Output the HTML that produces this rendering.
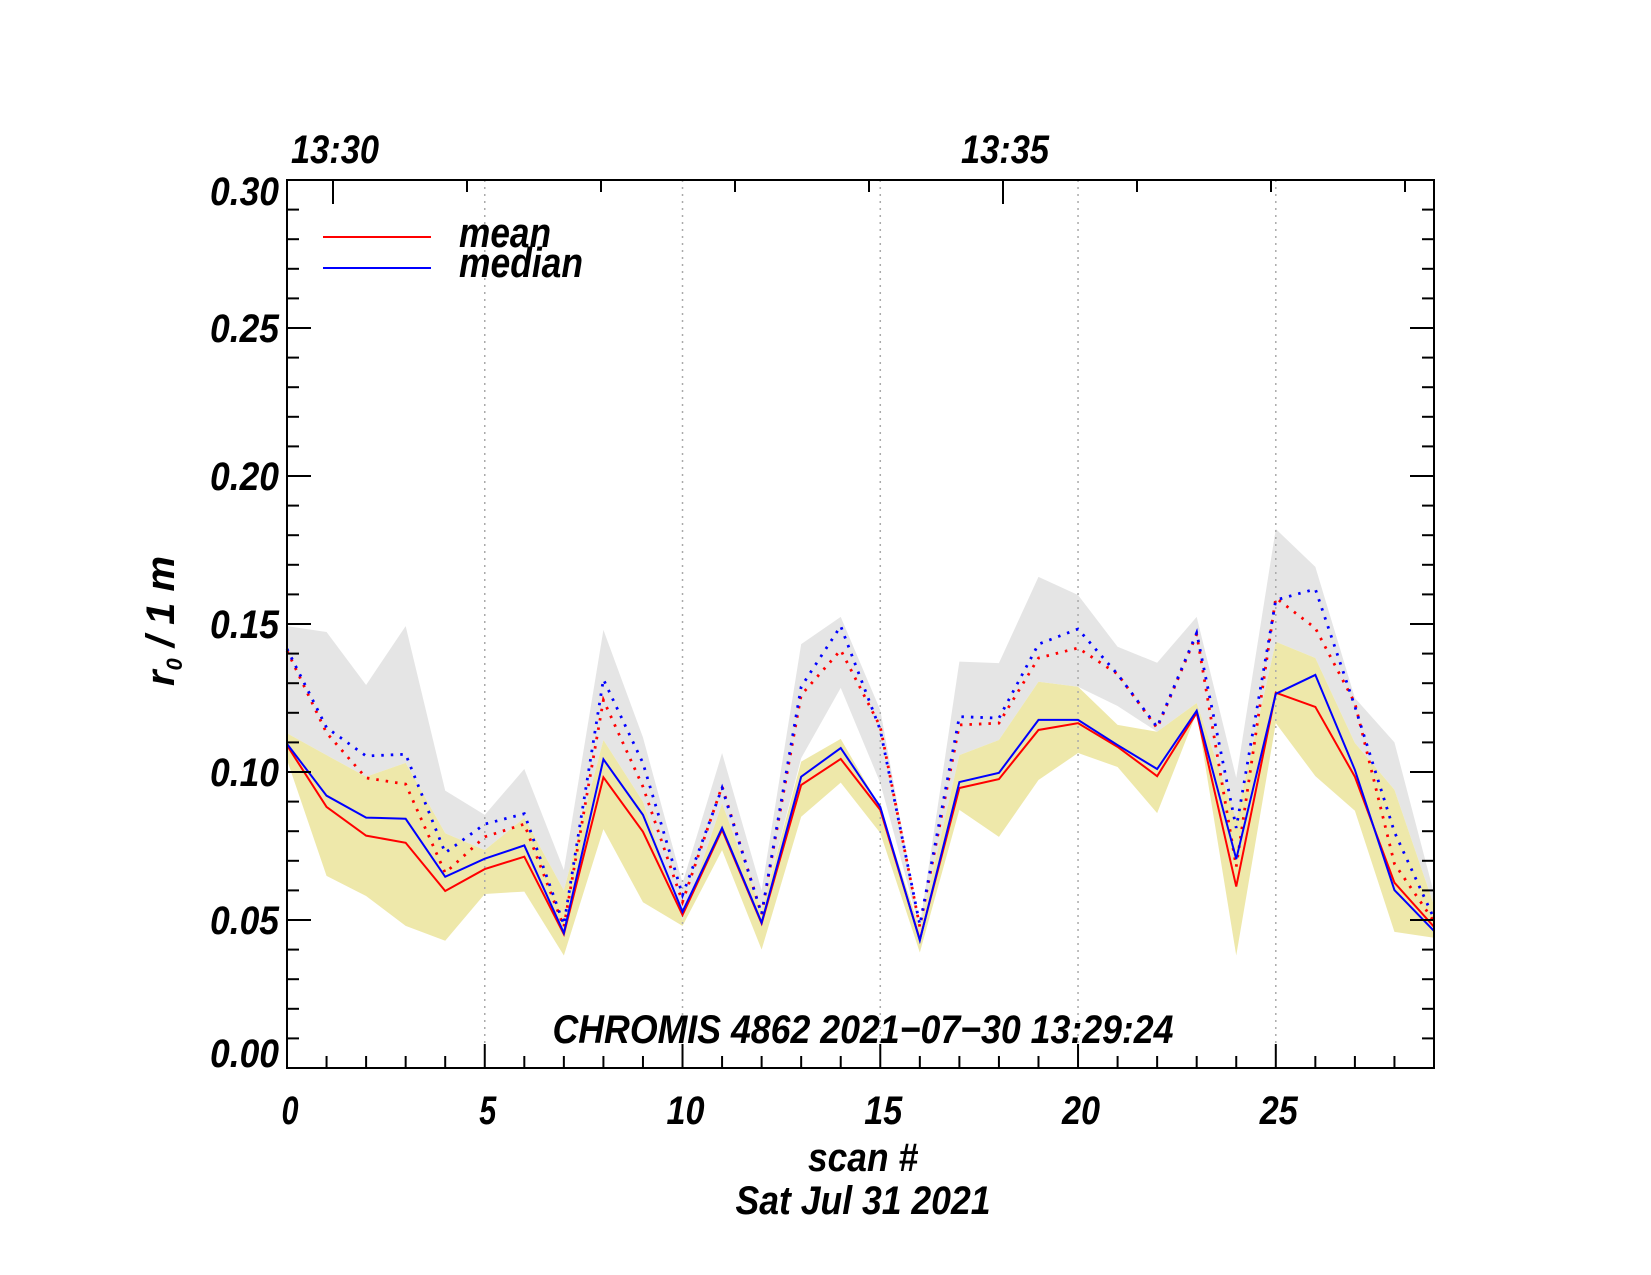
<!DOCTYPE html>
<html><head><meta charset="utf-8"><style>
html,body{margin:0;padding:0;background:#fff;}
svg{display:block;}
text{font-family:"Liberation Sans",sans-serif;font-weight:bold;font-style:italic;fill:#000;}
</style></head><body>
<svg id="chart" width="1651" height="1275" viewBox="0 0 1651 1275" xmlns="http://www.w3.org/2000/svg">
<g id="bands"></g>
<g id="grid"></g>
<g id="lines"></g>
<g id="axes"></g>
<text x="335" y="163" font-size="40" text-anchor="middle" textLength="88" lengthAdjust="spacingAndGlyphs">13:30</text>
<text x="1005" y="163" font-size="40" text-anchor="middle" textLength="88" lengthAdjust="spacingAndGlyphs">13:35</text>
<line x1="323" y1="237" x2="431" y2="237" stroke="#ff0000" stroke-width="2"/>
<line x1="323" y1="268" x2="431" y2="268" stroke="#0000ff" stroke-width="2"/>
<text x="459" y="247" font-size="42" textLength="92" lengthAdjust="spacingAndGlyphs">mean</text>
<text x="459" y="277" font-size="42" textLength="124" lengthAdjust="spacingAndGlyphs">median</text>
<text x="863" y="1043" font-size="40" text-anchor="middle" textLength="621" lengthAdjust="spacingAndGlyphs">CHROMIS 4862 2021−07−30 13:29:24</text>
<text x="863" y="1171" font-size="40" text-anchor="middle" textLength="110" lengthAdjust="spacingAndGlyphs">scan #</text>
<text x="863" y="1214" font-size="40" text-anchor="middle" textLength="255" lengthAdjust="spacingAndGlyphs">Sat Jul 31 2021</text>
<text transform="translate(174,621) rotate(-90)" font-size="40" text-anchor="middle">r<tspan font-size="22" dy="8">0</tspan><tspan dy="-8"> / 1 m</tspan></text>
</svg>
<script>
const scans = [0,1,2,3,4,5,6,7,8,9,10,11,12,13,14,15,16,17,18,19,20,21,22,23,24,25,26,27,28,29];
const meanVals = [.109,.0882,.0785,.0761,.0598,.0672,.0714,.0452,.0982,.0798,.0517,.0805,.0488,.0956,.1044,.0872,.0434,.0946,.0976,.1142,.1165,.1085,.0986,.1200,.0613,.1268,.1220,.0984,.0626,.0477];
const medianVals = [.1095,.0920,.0846,.0842,.0646,.0707,.0752,.0456,.1043,.0855,.0528,.0811,.0491,.0984,.1081,.0882,.0431,.0966,.0997,.1176,.1176,.1091,.1010,.1207,.0706,.1264,.1328,.1007,.0601,.0463];
const meanDotVals = [.141,.1132,.0980,.0959,.0659,.0781,.0824,.0477,.1243,.095,.0561,.0952,.052,.126,.1412,.1153,.0477,.1159,.1165,.1385,.1419,.1331,.1148,.1465,.068,.1588,.1486,.1233,.069,.0495];
const medianDotVals = [.1416,.1150,.1054,.1060,.0727,.0824,.0859,.0484,.1313,.103,.0584,.0946,.052,.1288,.1493,.1142,.0484,.1187,.1182,.1432,.1483,.133,.1152,.1470,.0811,.1581,.1618,.1221,.0797,.0505];
const grayUpper = [.1493,.1473,.1294,.1493,.0937,.0855,.1010,.0669,.1480,.1117,.0625,.1064,.060,.1432,.1524,.1209,.048,.1373,.1368,.1659,.1598,.1423,.1369,.1524,.098,.1821,.1693,.125,.110,.059];
const grayLower = [.1131,.1057,.0984,.1031,.0793,.0736,.0845,.060,.1108,.090,.050,.0895,.053,.1047,.1284,.0963,.047,.1057,.1108,.1305,.1288,.1223,.1136,.1233,.084,.1440,.1385,.1098,.094,.055];
const yellowUpper = [.1131,.1057,.0984,.1031,.0793,.0736,.0845,.060,.1108,.090,.050,.0895,.053,.1035,.1112,.088,.047,.1057,.1108,.1305,.1288,.1159,.1136,.1233,.084,.1440,.1385,.1098,.094,.055];
const yellowLower = [.1041,.0649,.0581,.048,.043,.0588,.0596,.038,.0807,.056,.048,.0736,.040,.0849,.0964,.0794,.039,.0872,.0781,.0973,.1064,.1017,.0861,.120,.038,.1165,.0986,.0869,.046,.044];
const yTickLabels = ["0.00","0.05","0.10","0.15","0.20","0.25","0.30"];
const xTickLabels = ["0","5","10","15","20","25"];

const NS="http://www.w3.org/2000/svg";
const X0=287,X1=1434,Y0=1068,Y1=180,XMAX=29,YMAX=0.30;
const xs=v=>X0+(X1-X0)*v/XMAX;
const ys=v=>Y0-(Y0-Y1)*v/YMAX;
function mk(tag,parent){const e=document.createElementNS(NS,tag);parent.appendChild(e);return e;}
const bands=document.getElementById('bands'),grid=document.getElementById('grid'),lines=document.getElementById('lines'),axes=document.getElementById('axes'),svg=document.getElementById('chart');

function band(up,low,color,name){
  const pts=scans.map((s,i)=>xs(s)+','+ys(up[i])).concat(scans.slice().reverse().map((s,j)=>{const i=scans.length-1-j;return xs(s)+','+ys(low[i]);}));
  const p=mk('polygon',bands);
  p.setAttribute('points',pts.join(' '));p.setAttribute('fill',color);
  
  
}
band(grayUpper,grayLower,'#e5e5e5','gray-range-band');
band(yellowUpper,yellowLower,'#eee8aa','yellow-range-band');

// vertical gridlines
[5,10,15,20,25].forEach(s=>{
  const l=mk('line',grid);
  l.setAttribute('x1',xs(s));l.setAttribute('x2',xs(s));l.setAttribute('y1',Y1);l.setAttribute('y2',Y0);
  l.setAttribute('stroke','#aaaaaa');l.setAttribute('stroke-width','1.5');l.setAttribute('stroke-dasharray','2 5');
  
  
});

function series(vals,color,dotted,name){
  const p=mk('polyline',lines);
  p.setAttribute('points',scans.map((s,i)=>xs(s)+','+ys(vals[i])).join(' '));
  p.setAttribute('fill','none');p.setAttribute('stroke',color);
  p.setAttribute('stroke-width',dotted?'2.8':'2');
  if(dotted){p.setAttribute('stroke-dasharray','2.5 7');}
  
  
}
series(meanDotVals,'#ff0000',true,'mean-dotted-line');
series(medianDotVals,'#0000ff',true,'median-dotted-line');
series(meanVals,'#ff0000',false,'mean-line');
series(medianVals,'#0000ff',false,'median-line');

// frame
const fr=mk('rect',axes);
fr.setAttribute('x',X0);fr.setAttribute('y',Y1);fr.setAttribute('width',X1-X0);fr.setAttribute('height',Y0-Y1);
fr.setAttribute('fill','none');fr.setAttribute('stroke','#000');fr.setAttribute('stroke-width','2');


function tick(x1,y1,x2,y2){const l=mk('line',axes);l.setAttribute('x1',x1);l.setAttribute('y1',y1);l.setAttribute('x2',x2);l.setAttribute('y2',y2);l.setAttribute('stroke','#000');l.setAttribute('stroke-width','2');
  
  }
// y ticks
for(let k=0;k<=30;k++){const v=k/100,y=ys(v),L=(k%5===0)?24:12;tick(X0,y,X0+L,y);tick(X1,y,X1-L,y);}
// x ticks bottom
for(let s=0;s<=29;s++){const L=(s%5===0)?24:12;tick(xs(s),Y0,xs(s),Y0-L);}
// top time ticks
for(let m=0;m<9;m++){const x=333+134*m;if(x<X1){tick(x,Y1,x,Y1+(m%5===0?24:12));}}
// y labels
yTickLabels.forEach((t,i)=>{
  const v=parseFloat(t);let cy=ys(v);
  if(i===yTickLabels.length-1)cy+=11; if(i===0)cy-=15;
  const e=mk('text',svg);e.textContent=t;
  e.setAttribute('x',279);e.setAttribute('y',cy+14);e.setAttribute('text-anchor','end');e.setAttribute('font-size','40');
  e.setAttribute('textLength','69');e.setAttribute('lengthAdjust','spacingAndGlyphs');
  
  
});
xTickLabels.forEach(t=>{
  const e=mk('text',svg);e.textContent=t;
  e.setAttribute('x',xs(parseFloat(t))+3);e.setAttribute('y',1124);e.setAttribute('text-anchor','middle');e.setAttribute('font-size','40');
  e.setAttribute('textLength',t.length>1?'38':'17');e.setAttribute('lengthAdjust','spacingAndGlyphs');
  
  
});
</script>
</body></html>
